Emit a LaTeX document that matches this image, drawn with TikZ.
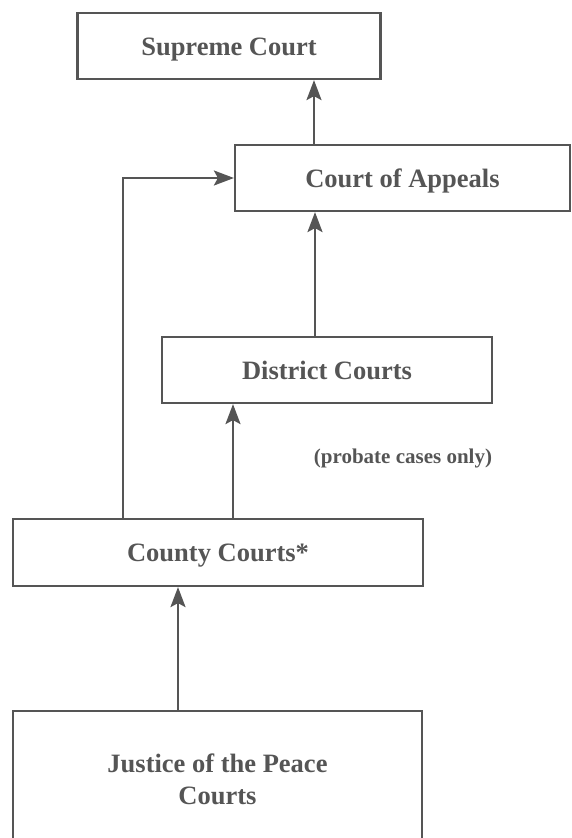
\documentclass[tikz,border=0pt]{standalone}
\usepackage{fontspec}
\setmainfont{Liberation Serif}
\usetikzlibrary{arrows.meta}
\definecolor{ink}{HTML}{555555}
\begin{document}
\begin{tikzpicture}[x=1pt,y=-1pt,
  court/.style={draw=ink,line width=2.2pt,text=ink,font=\fontsize{26.5}{32}\selectfont\bfseries,inner sep=0pt,align=center},
  one/.style={text height=18pt,text depth=0pt},
  link/.style={draw=ink,line width=2.2pt,-{Stealth[length=20pt,width=15pt,inset=4pt]}},
  note/.style={text=ink,font=\fontsize{21}{24}\selectfont\bfseries,inner sep=0pt}]
\clip (0,0) rectangle (572,838);
\useasboundingbox (0,0) rectangle (572,838);
\node[court,one,minimum width=303pt,minimum height=66pt] (sup) at (229,46) {Supreme Court};
\node[court,one,minimum width=335pt,minimum height=66pt] (app) at (402.5,178) {Court of Appeals};
\node[court,one,minimum width=330pt,minimum height=66pt] (dist) at (327,370) {District Courts};
\node[court,one,minimum width=410pt,minimum height=67pt] (cty) at (218,552.5) {County Courts*};
\node[court,minimum width=409pt,minimum height=136pt] (jp) at (217.5,779) {Justice of the Peace\\Courts};
\node[note] (prob) at (403,458) {(probate cases only)};
\draw[link] (app.north -| 314,0) -- (sup.south -| 314,0);
\draw[link] (dist.north -| 315,0) -- (app.south -| 315,0);
\draw[link] (cty.north -| 233,0) -- (dist.south -| 233,0);
\draw[link] (cty.north -| 123,0) |- (app.west);
\draw[link] (jp.north -| 178,0) -- (cty.south -| 178,0);
\end{tikzpicture}
\end{document}
